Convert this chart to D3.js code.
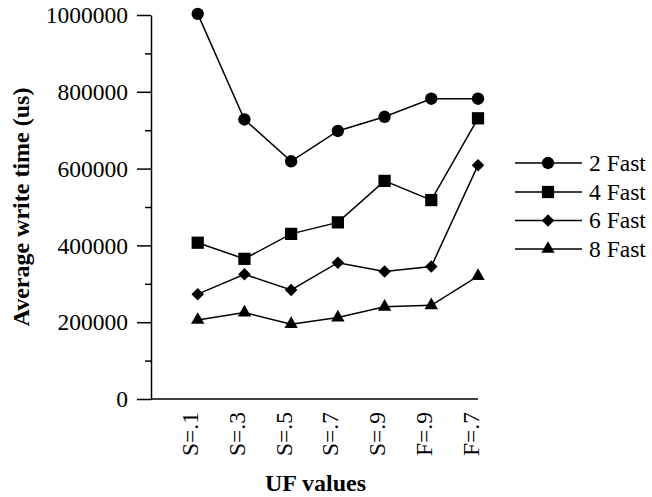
<!DOCTYPE html>
<html>
<head>
<meta charset="utf-8">
<script src="https://cdn.jsdelivr.net/npm/d3@7"></script>
<style>
  html, body { margin: 0; padding: 0; background: #fff; }
  svg { display: block; }
  svg text { font-family: "Liberation Serif", "Times New Roman", serif !important; fill: #000; }
</style>
</head>
<body>
<svg id="chart" width="652" height="497" font-family="Liberation Serif"></svg>
<script>
// ---- data ----
const categories = ["S=.1", "S=.3", "S=.5", "S=.7", "S=.9", "F=.9", "F=.7"];
const seriesNames = ["2 Fast", "4 Fast", "6 Fast", "8 Fast"];
const fast2 = [1003000, 728000, 619000, 698000, 735000, 782000, 782000];
const fast4 = [407000, 365000, 430000, 460000, 568000, 518000, 731000];
const fast6 = [273000, 325000, 284000, 355000, 332000, 345000, 609000];
const fast8 = [206000, 225000, 195000, 212000, 240000, 244000, 320000];
const majorTicks = [0, 200000, 400000, 600000, 800000, 1000000];
const minorTicks = [100000, 300000, 500000, 700000, 900000];
const yTitle = "Average write time (us)";
const xTitle = "UF values";

const seriesValues = [fast2, fast4, fast6, fast8];
const FONT = "Liberation Serif";

// ---- layout ----
const svg = d3.select("#chart");
const L = 151, R = 478, T = 15, B = 399;
const step = (R - L) / categories.length;

const x = d3.scalePoint().domain(categories).range([L + step, R]);
const y = d3.scaleLinear().domain([0, 1000000]).range([B, T]);

const symbols = [
  d3.symbol().type(d3.symbolCircle).size(120),
  d3.symbol().type(d3.symbolSquare).size(150),
  d3.symbol().type(d3.symbolSquare).size(78),
  d3.symbol().type(d3.symbolTriangle).size(78)
];
const rotations = [0, 0, 45, 0];

// ---- y axis ----
const yMinor = svg.append("g").attr("transform", `translate(${L},0)`)
  .call(d3.axisLeft(y).tickValues(minorTicks).tickSize(6).tickSizeOuter(0).tickFormat(""));
yMinor.select(".domain").remove();
yMinor.selectAll("line").attr("stroke", "#000").attr("stroke-width", 1.5);

const yMajor = svg.append("g").attr("transform", `translate(${L},0)`)
  .call(d3.axisLeft(y).tickValues(majorTicks).tickSize(14).tickSizeOuter(0).tickPadding(9)
    .tickFormat(d3.format("d")));
yMajor.attr("font-family", FONT).attr("font-size", 23.5);
yMajor.select(".domain").attr("stroke", "#000").attr("stroke-width", 1.5);
yMajor.selectAll("line").attr("stroke", "#000").attr("stroke-width", 1.5);
yMajor.selectAll("text")
  .attr("font-family", FONT).attr("font-size", 23.5)
  .attr("fill", "#000").attr("dy", "0.33em");

// ---- x axis ----
const xAxis = svg.append("g").attr("transform", `translate(0,${B})`)
  .call(d3.axisBottom(x).tickSize(0).tickSizeOuter(0));
xAxis.attr("font-family", FONT).attr("font-size", 23.5);
xAxis.select(".domain").attr("d", `M${L},0H${R}`).attr("stroke", "#000").attr("stroke-width", 1.5);
xAxis.selectAll(".tick text")
  .attr("font-family", FONT).attr("font-size", 23.5).attr("fill", "#000")
  .attr("text-anchor", "end")
  .attr("x", 0).attr("y", 0).attr("dy", 0)
  .attr("transform", "translate(0,13) rotate(-90)");

// ---- titles ----
svg.append("text")
  .attr("transform", `translate(29,${(T + B) / 2}) rotate(-90)`)
  .attr("text-anchor", "middle")
  .attr("font-family", FONT).attr("font-size", 24).attr("font-weight", "bold")
  .text(yTitle);

svg.append("text")
  .attr("x", (L + R) / 2 + 1).attr("y", 491)
  .attr("text-anchor", "middle")
  .attr("font-family", FONT).attr("font-size", 24).attr("font-weight", "bold")
  .text(xTitle);

// ---- series ----
const line = d3.line().x((d, i) => x(categories[i])).y(d => y(d));
seriesValues.forEach((vals, s) => {
  svg.append("path").datum(vals)
    .attr("d", line).attr("fill", "none").attr("stroke", "#000").attr("stroke-width", 1.5);
  svg.append("g").selectAll("path").data(vals).join("path")
    .attr("d", symbols[s])
    .attr("transform", (d, i) => `translate(${x(categories[i])},${y(d)}) rotate(${rotations[s]})`)
    .attr("fill", "#000");
});

// ---- legend ----
const legend = svg.append("g");
const rowY = [163, 192, 220.5, 249];
seriesNames.forEach((name, s) => {
  const g = legend.append("g").attr("transform", `translate(0,${rowY[s]})`);
  g.append("line").attr("x1", 515).attr("x2", 582).attr("y1", 0).attr("y2", 0)
    .attr("stroke", "#000").attr("stroke-width", 1.5);
  g.append("path").attr("d", symbols[s])
    .attr("transform", `translate(548,0) rotate(${rotations[s]})`).attr("fill", "#000");
  g.append("text").attr("x", 589).attr("y", 0).attr("dy", "0.33em")
    .attr("font-family", FONT).attr("font-size", 23.5).text(name);
});
</script>
</body>
</html>
